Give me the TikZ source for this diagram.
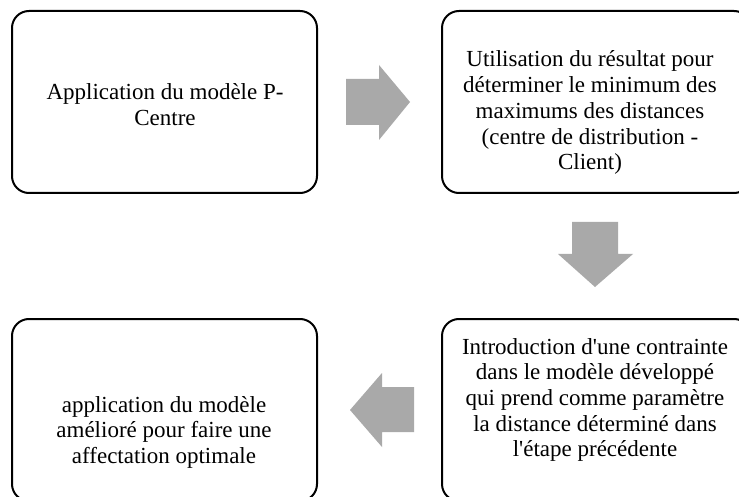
\documentclass[tikz,border=0pt]{standalone}
\usepackage{fontspec}
\setmainfont{Liberation Serif}[Ligatures=TeXOff]
\definecolor{arrowgray}{HTML}{A9A9A9}
\begin{document}
\begin{tikzpicture}[x=1pt,y=-1pt,
  stepbox/.style={draw=black, line width=2pt, rounded corners=17pt,
    rectangle, inner sep=0pt, fill=white},
  steptext/.style={align=center, inner sep=0pt, anchor=north,
    font=\fontsize{23}{25.7}\selectfont},
  blockarrow/.style={fill=arrowgray, draw=none}]
\useasboundingbox (0,0) rectangle (739,497);
\clip (0,0) rectangle (739,497);
\fill[white] (0,0) rectangle (739,497);

% process boxes
\node[stepbox, minimum width=305pt, minimum height=182pt] (box1) at (164.5,102) {};
\node[stepbox, minimum width=309pt, minimum height=182pt] (box2) at (596.5,102) {};
\node[stepbox, minimum width=309pt, minimum height=182pt] (box3) at (596.5,410) {};
\node[stepbox, minimum width=305pt, minimum height=182pt] (box4) at (164.5,410) {};

% box texts (a zero-width rule fixes the top of each block)
\node[steptext] (t1) at (165,83) {\rule{0pt}{16.3pt}Application du modèle P-\\Centre};
\node[steptext] (t2) at (590,50.5) {\rule{0pt}{16.3pt}Utilisation du résultat pour\\déterminer le minimum des\\maximums des distances\\(centre de distribution -\\Client)};
\node[steptext] (t3) at (595,337.5) {\rule{0pt}{16.3pt}Introduction d'une contrainte\\dans le modèle développé\\qui prend comme paramètre\\la distance déterminé dans\\l'étape précédente};
\node[steptext] (t4) at (164,395.5) {\rule{0pt}{16.3pt}application du modèle\\amélioré pour faire une\\affectation optimale};

% block arrows between the steps
\fill[blockarrow] (346,79) -- (379,79) -- (379,65) -- (410,102) -- (379,140) -- (379,125) -- (346,125) -- cycle;
\fill[blockarrow] (572,222) -- (618,222) -- (618,254) -- (633,254) -- (595,287) -- (558,254) -- (572,254) -- cycle;
\fill[blockarrow] (414,387) -- (382,387) -- (382,373) -- (350,410) -- (382,447) -- (382,432) -- (414,432) -- cycle;
\end{tikzpicture}
\end{document}
